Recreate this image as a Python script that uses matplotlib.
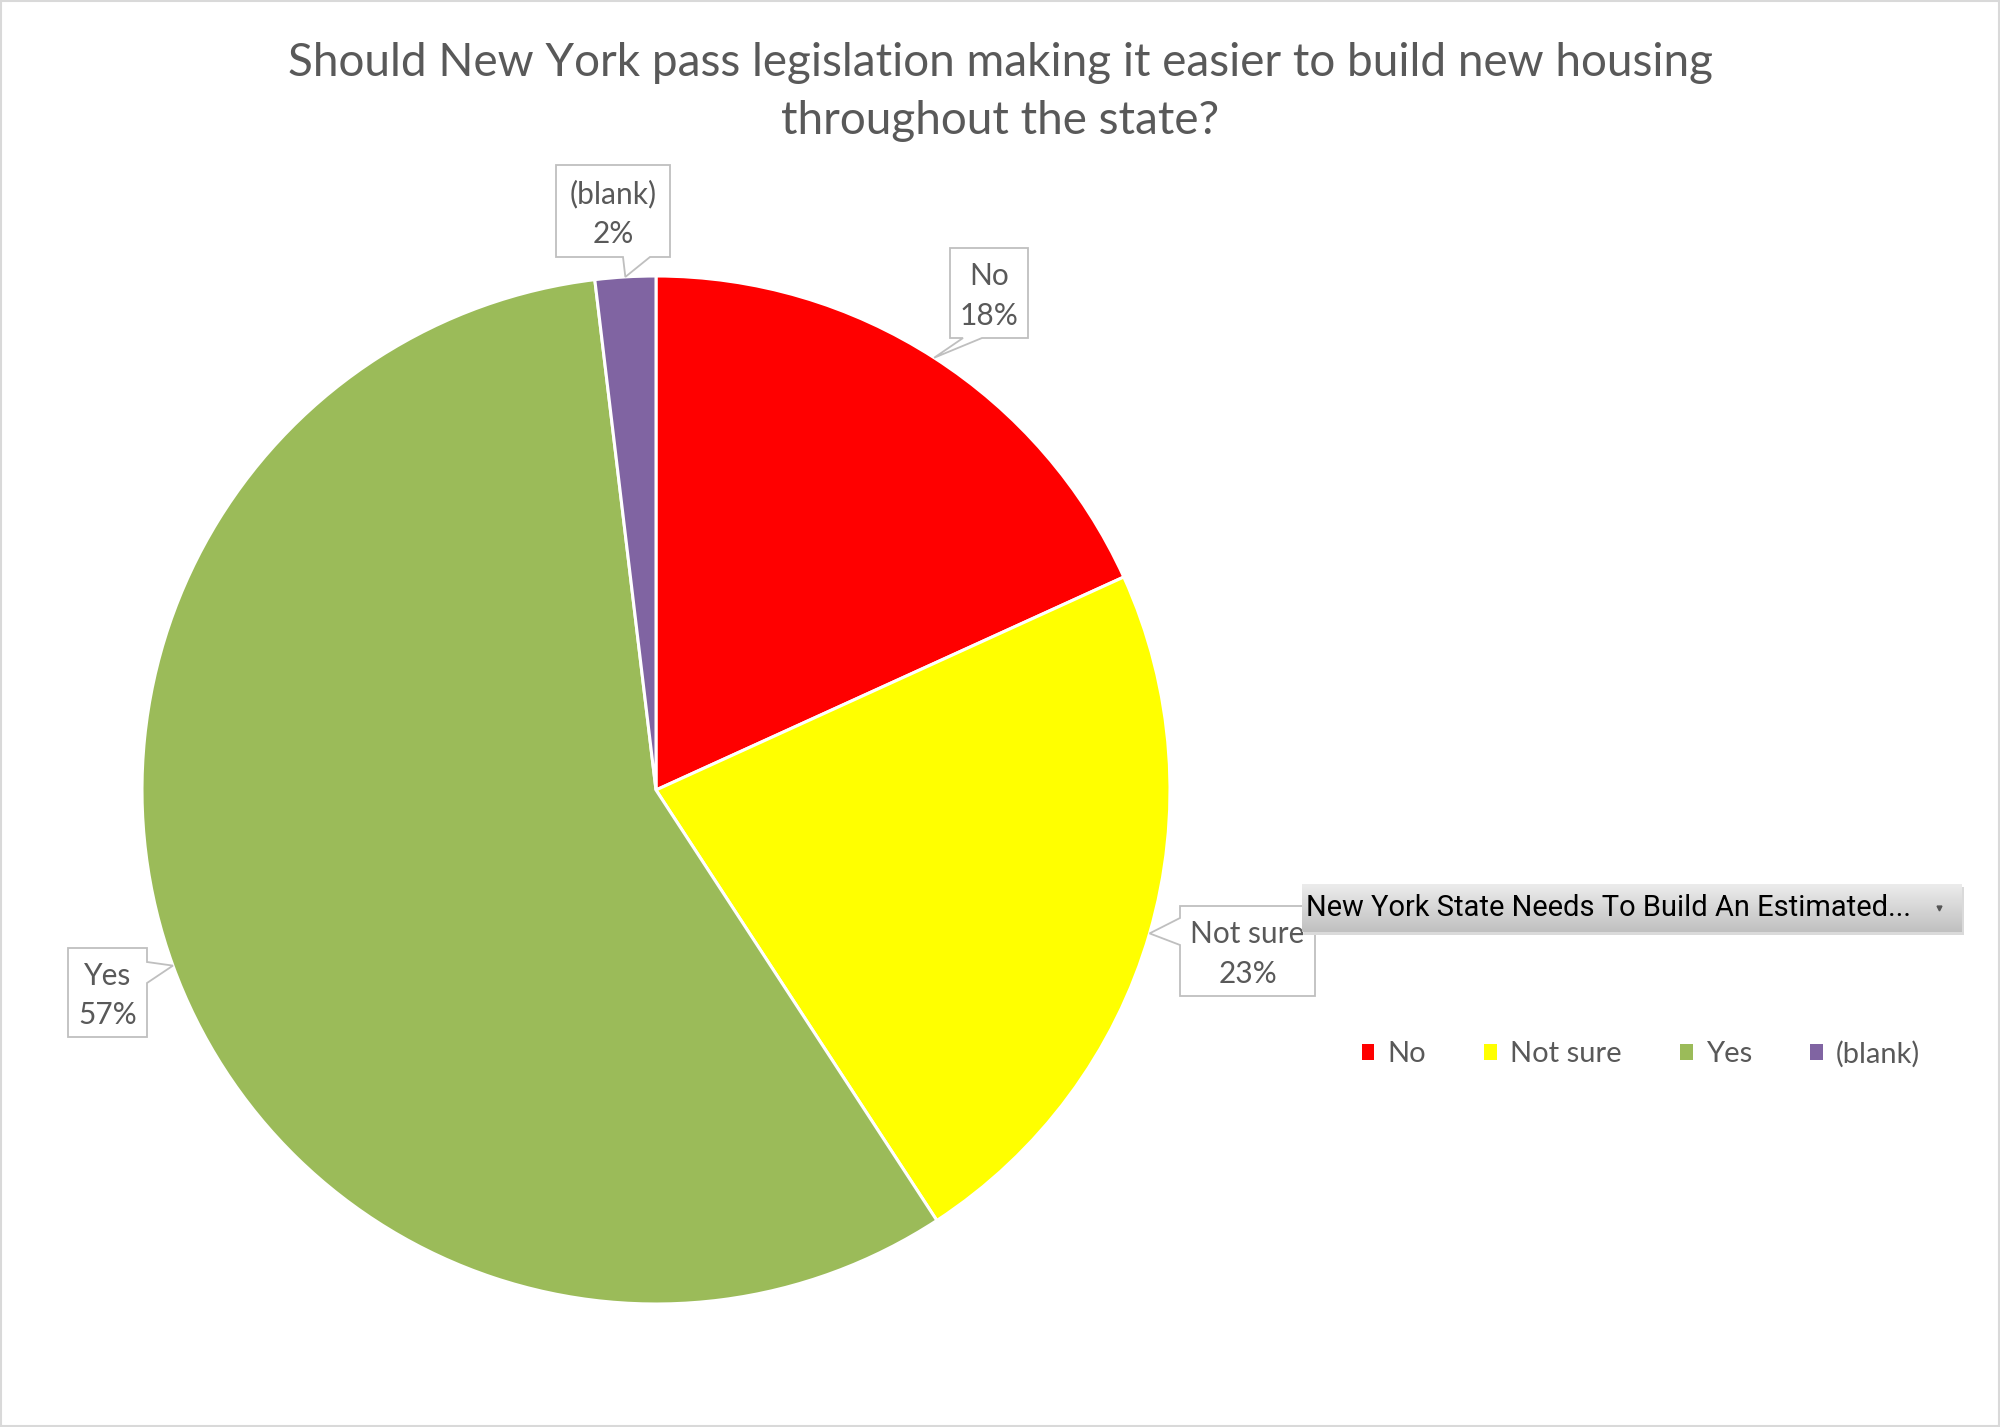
import numpy as np
import matplotlib
matplotlib.use("Agg")
import matplotlib.pyplot as plt
from matplotlib.patches import Polygon, Rectangle, Patch

# ---- data ----
categories = ["No", "Not sure", "Yes", "(blank)"]
shares = [18.2, 22.6, 57.3, 1.9]
pct_labels = ["18%", "23%", "57%", "2%"]
colors = ["#FF0000", "#FFFF00", "#9BBB59", "#8064A2"]
title = "Should New York pass legislation making it easier to build new housing\nthroughout the state?"
filter_text = "New York State Needs To Build An Estimated..."

W, H = 2000, 1427
fig = plt.figure(figsize=(W / 100, H / 100), dpi=100)
ax = fig.add_axes([0, 0, 1, 1])

GRAY = "#595959"
FONT = ["Lato", "DejaVu Sans"]

cx, cy, R = 656, H - 790, 514
wedges, _ = ax.pie(shares, colors=colors, startangle=90, counterclock=False,
                   center=(cx, cy), radius=R, frame=True,
                   wedgeprops=dict(edgecolor="white", linewidth=2.2))
ax.set_xlim(0, W)
ax.set_ylim(0, H)
ax.set_aspect("equal")
ax.set_axis_off()

# figure border
ax.add_patch(Rectangle((1, 1), W - 2, H - 2, fill=False, edgecolor="#D9D9D9", lw=1.5))

# title
fig.text(0.5, 1 - 92 / H, title, ha="center", va="center", fontsize=33,
         color=GRAY, family=FONT, linespacing=1.5)

# callouts: box (x0, x1, ytop, ybot) in reference px, side, base pair
callouts = {
    "(blank)": dict(box=(556, 670, 165, 257), side="bottom", base=(623, 650)),
    "No": dict(box=(950, 1028, 248, 338), side="bottom", base=(963, 982)),
    "Not sure": dict(box=(1180, 1315, 906, 996), side="left", base=(918, 945)),
    "Yes": dict(box=(68, 147, 948, 1037), side="right", base=(962, 983)),
}

for w, cat, pl in zip(wedges, categories, pct_labels):
    mid = np.deg2rad((w.theta1 + w.theta2) / 2)
    tx, ty = cx + R * np.cos(mid), cy + R * np.sin(mid)
    c = callouts[cat]
    x0, x1, yt, yb = c["box"]
    yt, yb = H - yt, H - yb
    b0, b1 = c["base"]
    if c["side"] == "bottom":
        pts = [(x0, yt), (x1, yt), (x1, yb), (b1, yb), (tx, ty), (b0, yb), (x0, yb)]
    elif c["side"] == "left":
        pts = [(x0, yt), (x1, yt), (x1, yb), (x0, yb), (x0, H - b1), (tx, ty), (x0, H - b0)]
    else:
        pts = [(x0, yt), (x1, yt), (x1, H - b0), (tx, ty), (x1, H - b1), (x1, yb), (x0, yb)]
    ax.add_patch(Polygon(pts, closed=True, facecolor="white", edgecolor="#BFBFBF",
                         lw=1.3, zorder=5))
    ax.text((x0 + x1) / 2, (yt + yb) / 2 - 3, f"{cat}\n{pl}", ha="center", va="center",
            fontsize=21.5, color=GRAY, family=FONT, linespacing=1.5, zorder=6)

# filter button (drawn over callout)
bx0, bx1, byt, byb = 1302, 1962, H - 884, H - 932
grad = np.linspace(0, 1, 64).reshape(-1, 1)
ax.add_patch(Rectangle((bx0 + 2, byb - 3), bx1 - bx0, byt - byb, facecolor="#DADADA",
                       edgecolor="none", zorder=7))
cmap = matplotlib.colors.LinearSegmentedColormap.from_list("g", ["#ECECEC", "#C0C0C0"])
ax.imshow(grad, extent=(bx0, bx1, byb, byt), cmap=cmap, aspect="auto", zorder=8,
          origin="upper")
ax.set_xlim(0, W)
ax.set_ylim(0, H)
ftxt = ax.text(bx0 + 4, (byt + byb) / 2, filter_text, ha="left", va="center", fontsize=22,
               color="black", family=["Roboto", "DejaVu Sans"], zorder=9)
fig.canvas.draw()
wpx = ftxt.get_window_extent().width
ftxt.set_fontsize(22 * 604 / wpx)
ax.plot([1939], [(byt + byb) / 2], marker="v", ms=3.5, color="#555555", zorder=9)

# legend
handles = [Patch(facecolor=c, edgecolor="none") for c in colors]
leg = ax.legend(handles, categories, ncol=4, loc="center",
                bbox_to_anchor=(1641, H - 1054), bbox_transform=ax.transData,
                frameon=False, handlelength=0.43, handleheight=0.43,
                handletextpad=0.45, columnspacing=2.0, prop=dict(family=FONT, size=21))
for t in leg.get_texts():
    t.set_color(GRAY)

fig.savefig("out.png", dpi=100)
